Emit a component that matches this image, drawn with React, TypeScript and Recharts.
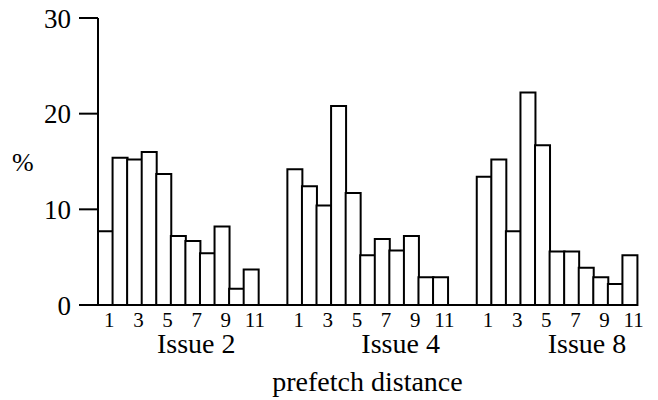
import React from "react"
import { BarChart, Bar, XAxis, YAxis, Label } from "recharts"

const distances = ["1", "2", "3", "4", "5", "6", "7", "8", "9", "10", "11"]
const tickLabels = ["1", "", "3", "", "5", "", "7", "", "9", "", "11"]
const issues = ["Issue 2", "Issue 4", "Issue 8"]

const issue2 = [7.7, 15.4, 15.2, 16.0, 13.7, 7.2, 6.7, 5.4, 8.2, 1.7, 3.7]
const issue4 = [14.2, 12.4, 10.4, 20.8, 11.7, 5.2, 6.9, 5.7, 7.2, 2.9, 2.9]
const issue8 = [13.4, 15.2, 7.7, 22.2, 16.7, 5.6, 5.6, 3.9, 2.9, 2.2, 5.2]

const yTicks = [0, 10, 20, 30]

const FONT = "Liberation Serif, Times New Roman, DejaVu Serif, serif"

type Row = {
  key: string
  label: string
  value: number | null
  group: number
  pos: number
}

// three groups of 11 bars, two empty slots between groups
const rows: Row[] = []
;[issue2, issue4, issue8].forEach((values, g) => {
  if (g > 0) {
    rows.push({ key: `gap-${g}-a`, label: "", value: null, group: -1, pos: -1 })
    rows.push({ key: `gap-${g}-b`, label: "", value: null, group: -1, pos: -1 })
  }
  values.forEach((v, i) => {
    rows.push({ key: `${issues[g]}-${distances[i]}`, label: tickLabels[i], value: v, group: g, pos: i })
  })
})

const issueDx = [-11, 4, 1]

function DistanceTick(props: any) {
  const { x, y, payload } = props
  const idx = props.index ?? payload?.index
  const row = rows[idx]
  if (!row) return null
  return (
    <g>
      {row.label && (
        <text x={x + 4} y={y + 21.5} textAnchor="middle" fontSize={21} fill="#000" style={{ fontFamily: FONT }}>
          {row.label}
        </text>
      )}
      {row.pos === 7 && (
        <text x={x + issueDx[row.group]} y={y + 48} textAnchor="middle" fontSize={28} fill="#000" style={{ fontFamily: FONT }}>
          {issues[row.group]}
        </text>
      )}
    </g>
  )
}

export default function App() {
  return (
    <div style={{ position: "absolute", left: 0, top: 0, background: "#fff", fontFamily: FONT }}>
      <BarChart
        width={658}
        height={400}
        data={rows}
        barCategoryGap={0}
        margin={{ top: 18, right: 21, bottom: 0, left: 0 }}
        style={{ fontFamily: FONT }}
      >
        <XAxis
          dataKey="key"
          interval={0}
          tickLine={false}
          tickSize={0}
          tickMargin={0}
          height={95}
          axisLine={{ stroke: "#000", strokeWidth: 2 }}
          tick={<DistanceTick />}
        >
          <Label
            value="prefetch distance"
            position="insideBottom"
            offset={9}
            style={{ fontSize: 28, fontFamily: FONT, fill: "#000" }}
          />
        </XAxis>
        <XAxis
          xAxisId="top"
          dataKey="key"
          orientation="top"
          height={0}
          tick={false}
          tickLine={false}
          axisLine={{ stroke: "#000", strokeWidth: 1.5 }}
        />
        <YAxis
          domain={[0, 30]}
          ticks={yTicks}
          width={98}
          tickSize={19}
          tickMargin={8}
          tickLine={{ stroke: "#000", strokeWidth: 2 }}
          axisLine={{ stroke: "#000", strokeWidth: 2 }}
          tick={{ fontSize: 27, fill: "#000", style: { fontFamily: FONT } }}
        >
          <Label
            value="%"
            position="insideLeft"
            offset={12}
            style={{ fontSize: 26, fontFamily: FONT, fill: "#000" }}
          />
        </YAxis>
        <YAxis
          yAxisId="right"
          orientation="right"
          domain={[0, 30]}
          width={0}
          tick={false}
          tickLine={false}
          axisLine={{ stroke: "#000", strokeWidth: 1.5 }}
        />
        <Bar dataKey="value" fill="#fff" stroke="#000" strokeWidth={2} isAnimationActive={false} />
      </BarChart>
    </div>
  )
}
